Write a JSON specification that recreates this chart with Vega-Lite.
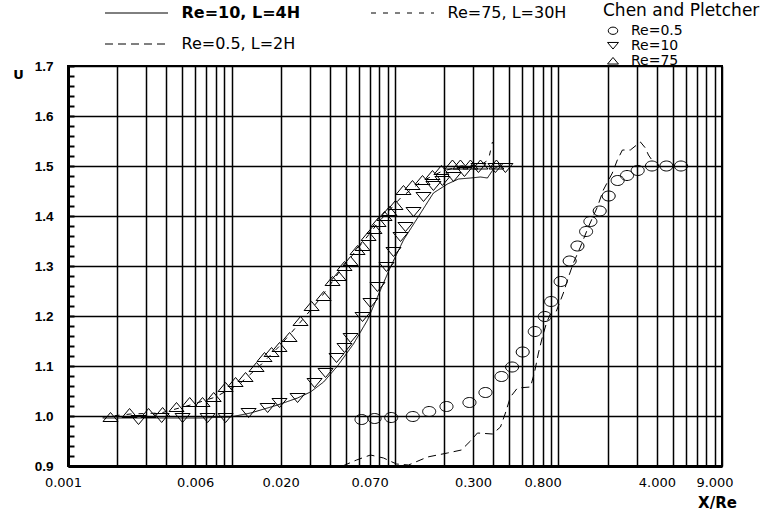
{
  "$schema": "https://vega.github.io/schema/vega-lite/v6.json",
  "width": 654,
  "height": 400,
  "autosize": {"type": "none"},
  "padding": {"left": 68, "top": 66, "right": 54, "bottom": 45},
  "background": "white",
  "config": {
    "view": {"stroke": "black", "strokeWidth": 2},
    "axis": {"domainColor": "black", "labelColor": "black", "titleColor": "black", "tickColor": "black"}
  },
  "resolve": {"axis": {"y": "independent"}},
  "datasets": {
    "lines": [
      {"s": "Re=10, L=4H", "x": 0.00163, "u": 0.996},
      {"s": "Re=10, L=4H", "x": 0.00321, "u": 0.996},
      {"s": "Re=10, L=4H", "x": 0.00647, "u": 0.996},
      {"s": "Re=10, L=4H", "x": 0.00987, "u": 0.998},
      {"s": "Re=10, L=4H", "x": 0.01309, "u": 1.006},
      {"s": "Re=10, L=4H", "x": 0.01914, "u": 1.022},
      {"s": "Re=10, L=4H", "x": 0.02535, "u": 1.036},
      {"s": "Re=10, L=4H", "x": 0.0304, "u": 1.048},
      {"s": "Re=10, L=4H", "x": 0.0366, "u": 1.068},
      {"s": "Re=10, L=4H", "x": 0.0445, "u": 1.1},
      {"s": "Re=10, L=4H", "x": 0.0557, "u": 1.144},
      {"s": "Re=10, L=4H", "x": 0.0679, "u": 1.192},
      {"s": "Re=10, L=4H", "x": 0.0781, "u": 1.238},
      {"s": "Re=10, L=4H", "x": 0.0938, "u": 1.298},
      {"s": "Re=10, L=4H", "x": 0.1127, "u": 1.352},
      {"s": "Re=10, L=4H", "x": 0.1373, "u": 1.396},
      {"s": "Re=10, L=4H", "x": 0.1718, "u": 1.446},
      {"s": "Re=10, L=4H", "x": 0.2094, "u": 1.464},
      {"s": "Re=10, L=4H", "x": 0.2445, "u": 1.474},
      {"s": "Re=10, L=4H", "x": 0.2893, "u": 1.476},
      {"s": "Re=10, L=4H", "x": 0.3332, "u": 1.478},
      {"s": "Re=10, L=4H", "x": 0.3676, "u": 1.476},
      {"s": "Re=10, L=4H", "x": 0.4, "u": 1.494},
      {"s": "Re=10, L=4H", "x": 0.4415, "u": 1.502},
      {"s": "Re=75, L=30H", "x": 0.00163, "u": 0.998},
      {"s": "Re=75, L=30H", "x": 0.002415, "u": 1.004},
      {"s": "Re=75, L=30H", "x": 0.00369, "u": 1.006},
      {"s": "Re=75, L=30H", "x": 0.00562, "u": 1.022},
      {"s": "Re=75, L=30H", "x": 0.008, "u": 1.038},
      {"s": "Re=75, L=30H", "x": 0.01137, "u": 1.066},
      {"s": "Re=75, L=30H", "x": 0.01507, "u": 1.102},
      {"s": "Re=75, L=30H", "x": 0.01995, "u": 1.142},
      {"s": "Re=75, L=30H", "x": 0.02644, "u": 1.188},
      {"s": "Re=75, L=30H", "x": 0.0351, "u": 1.236},
      {"s": "Re=75, L=30H", "x": 0.0465, "u": 1.292},
      {"s": "Re=75, L=30H", "x": 0.0615, "u": 1.342},
      {"s": "Re=75, L=30H", "x": 0.0815, "u": 1.392},
      {"s": "Re=75, L=30H", "x": 0.1081, "u": 1.436},
      {"s": "Re=75, L=30H", "x": 0.1432, "u": 1.468},
      {"s": "Re=75, L=30H", "x": 0.1897, "u": 1.488},
      {"s": "Re=75, L=30H", "x": 0.2513, "u": 1.5},
      {"s": "Re=75, L=30H", "x": 0.3332, "u": 1.502},
      {"s": "Re=75, L=30H", "x": 0.3728, "u": 1.512},
      {"s": "Re=75, L=30H", "x": 0.3945, "u": 1.548},
      {"s": "Re=0.5, L=2H", "x": 0.0478, "u": 0.9},
      {"s": "Re=0.5, L=2H", "x": 0.0582, "u": 0.912},
      {"s": "Re=0.5, L=2H", "x": 0.0708, "u": 0.922},
      {"s": "Re=0.5, L=2H", "x": 0.0851, "u": 0.916},
      {"s": "Re=0.5, L=2H", "x": 0.1021, "u": 0.904},
      {"s": "Re=0.5, L=2H", "x": 0.121, "u": 0.902},
      {"s": "Re=0.5, L=2H", "x": 0.1581, "u": 0.918},
      {"s": "Re=0.5, L=2H", "x": 0.2094, "u": 0.926},
      {"s": "Re=0.5, L=2H", "x": 0.2548, "u": 0.932},
      {"s": "Re=0.5, L=2H", "x": 0.2893, "u": 0.95},
      {"s": "Re=0.5, L=2H", "x": 0.3193, "u": 0.966},
      {"s": "Re=0.5, L=2H", "x": 0.3945, "u": 0.964},
      {"s": "Re=0.5, L=2H", "x": 0.4416, "u": 0.978},
      {"s": "Re=0.5, L=2H", "x": 0.4736, "u": 1.006},
      {"s": "Re=0.5, L=2H", "x": 0.508, "u": 1.038},
      {"s": "Re=0.5, L=2H", "x": 0.561, "u": 1.056},
      {"s": "Re=0.5, L=2H", "x": 0.673, "u": 1.058},
      {"s": "Re=0.5, L=2H", "x": 0.712, "u": 1.086},
      {"s": "Re=0.5, L=2H", "x": 0.754, "u": 1.126},
      {"s": "Re=0.5, L=2H", "x": 0.797, "u": 1.158},
      {"s": "Re=0.5, L=2H", "x": 0.844, "u": 1.186},
      {"s": "Re=0.5, L=2H", "x": 0.892, "u": 1.204},
      {"s": "Re=0.5, L=2H", "x": 0.971, "u": 1.21},
      {"s": "Re=0.5, L=2H", "x": 1.071, "u": 1.246},
      {"s": "Re=0.5, L=2H", "x": 1.151, "u": 1.278},
      {"s": "Re=0.5, L=2H", "x": 1.233, "u": 1.306},
      {"s": "Re=0.5, L=2H", "x": 1.361, "u": 1.338},
      {"s": "Re=0.5, L=2H", "x": 1.523, "u": 1.378},
      {"s": "Re=0.5, L=2H", "x": 1.729, "u": 1.418},
      {"s": "Re=0.5, L=2H", "x": 1.88, "u": 1.452},
      {"s": "Re=0.5, L=2H", "x": 2.134, "u": 1.486},
      {"s": "Re=0.5, L=2H", "x": 2.29, "u": 1.512},
      {"s": "Re=0.5, L=2H", "x": 2.46, "u": 1.532},
      {"s": "Re=0.5, L=2H", "x": 2.75, "u": 1.532},
      {"s": "Re=0.5, L=2H", "x": 3.17, "u": 1.548},
      {"s": "Re=0.5, L=2H", "x": 3.4, "u": 1.536},
      {"s": "Re=0.5, L=2H", "x": 3.55, "u": 1.522},
      {"s": "Re=0.5, L=2H", "x": 3.8, "u": 1.508}
    ],
    "points": [
      {"p": "Re=0.5", "x": 0.0624, "u": 0.993},
      {"p": "Re=0.5", "x": 0.075, "u": 0.995},
      {"p": "Re=0.5", "x": 0.0948, "u": 0.997},
      {"p": "Re=0.5", "x": 0.1285, "u": 0.999},
      {"p": "Re=0.5", "x": 0.1618, "u": 1.009},
      {"p": "Re=0.5", "x": 0.2065, "u": 1.019},
      {"p": "Re=0.5", "x": 0.2853, "u": 1.027},
      {"p": "Re=0.5", "x": 0.3575, "u": 1.047},
      {"p": "Re=0.5", "x": 0.448, "u": 1.079},
      {"p": "Re=0.5", "x": 0.52, "u": 1.098},
      {"p": "Re=0.5", "x": 0.604, "u": 1.128},
      {"p": "Re=0.5", "x": 0.716, "u": 1.169},
      {"p": "Re=0.5", "x": 0.824, "u": 1.199},
      {"p": "Re=0.5", "x": 0.901, "u": 1.229},
      {"p": "Re=0.5", "x": 1.031, "u": 1.269},
      {"p": "Re=0.5", "x": 1.17, "u": 1.31},
      {"p": "Re=0.5", "x": 1.306, "u": 1.34},
      {"p": "Re=0.5", "x": 1.475, "u": 1.369},
      {"p": "Re=0.5", "x": 1.567, "u": 1.389},
      {"p": "Re=0.5", "x": 1.786, "u": 1.41},
      {"p": "Re=0.5", "x": 2.027, "u": 1.44},
      {"p": "Re=0.5", "x": 2.3, "u": 1.471},
      {"p": "Re=0.5", "x": 2.625, "u": 1.481},
      {"p": "Re=0.5", "x": 3.05, "u": 1.491},
      {"p": "Re=0.5", "x": 3.73, "u": 1.5},
      {"p": "Re=0.5", "x": 4.57, "u": 1.5},
      {"p": "Re=0.5", "x": 5.61, "u": 1.5},
      {"p": "Re=10", "x": 0.0027, "u": 0.992},
      {"p": "Re=10", "x": 0.00374, "u": 0.996},
      {"p": "Re=10", "x": 0.00502, "u": 0.996},
      {"p": "Re=10", "x": 0.00714, "u": 0.996},
      {"p": "Re=10", "x": 0.0092, "u": 0.996},
      {"p": "Re=10", "x": 0.01272, "u": 1.006},
      {"p": "Re=10", "x": 0.01663, "u": 1.016},
      {"p": "Re=10", "x": 0.01966, "u": 1.026},
      {"p": "Re=10", "x": 0.02535, "u": 1.036},
      {"p": "Re=10", "x": 0.0322, "u": 1.066},
      {"p": "Re=10", "x": 0.0376, "u": 1.086},
      {"p": "Re=10", "x": 0.0439, "u": 1.116},
      {"p": "Re=10", "x": 0.0491, "u": 1.136},
      {"p": "Re=10", "x": 0.0535, "u": 1.156},
      {"p": "Re=10", "x": 0.0633, "u": 1.198},
      {"p": "Re=10", "x": 0.0708, "u": 1.226},
      {"p": "Re=10", "x": 0.0781, "u": 1.258},
      {"p": "Re=10", "x": 0.0887, "u": 1.298},
      {"p": "Re=10", "x": 0.0979, "u": 1.328},
      {"p": "Re=10", "x": 0.1081, "u": 1.358},
      {"p": "Re=10", "x": 0.1159, "u": 1.378},
      {"p": "Re=10", "x": 0.1298, "u": 1.408},
      {"p": "Re=10", "x": 0.1494, "u": 1.438},
      {"p": "Re=10", "x": 0.1718, "u": 1.46},
      {"p": "Re=10", "x": 0.195, "u": 1.47},
      {"p": "Re=10", "x": 0.228, "u": 1.478},
      {"p": "Re=10", "x": 0.266, "u": 1.488},
      {"p": "Re=10", "x": 0.3239, "u": 1.496},
      {"p": "Re=10", "x": 0.4114, "u": 1.496},
      {"p": "Re=10", "x": 0.4736, "u": 1.496},
      {"p": "Re=75", "x": 0.00182, "u": 0.998},
      {"p": "Re=75", "x": 0.00238, "u": 1.006},
      {"p": "Re=75", "x": 0.00311, "u": 1.006},
      {"p": "Re=75", "x": 0.00379, "u": 1.008},
      {"p": "Re=75", "x": 0.00461, "u": 1.018},
      {"p": "Re=75", "x": 0.00555, "u": 1.028},
      {"p": "Re=75", "x": 0.00665, "u": 1.028},
      {"p": "Re=75", "x": 0.00778, "u": 1.038},
      {"p": "Re=75", "x": 0.0092, "u": 1.058},
      {"p": "Re=75", "x": 0.01059, "u": 1.068},
      {"p": "Re=75", "x": 0.01219, "u": 1.078},
      {"p": "Re=75", "x": 0.01423, "u": 1.098},
      {"p": "Re=75", "x": 0.01592, "u": 1.118},
      {"p": "Re=75", "x": 0.01758, "u": 1.128},
      {"p": "Re=75", "x": 0.01966, "u": 1.138},
      {"p": "Re=75", "x": 0.02265, "u": 1.158},
      {"p": "Re=75", "x": 0.02644, "u": 1.19},
      {"p": "Re=75", "x": 0.0309, "u": 1.22},
      {"p": "Re=75", "x": 0.0366, "u": 1.24},
      {"p": "Re=75", "x": 0.0415, "u": 1.27},
      {"p": "Re=75", "x": 0.0452, "u": 1.28},
      {"p": "Re=75", "x": 0.0491, "u": 1.3},
      {"p": "Re=75", "x": 0.0535, "u": 1.31},
      {"p": "Re=75", "x": 0.059, "u": 1.332},
      {"p": "Re=75", "x": 0.0633, "u": 1.34},
      {"p": "Re=75", "x": 0.0689, "u": 1.36},
      {"p": "Re=75", "x": 0.0749, "u": 1.374},
      {"p": "Re=75", "x": 0.0793, "u": 1.388},
      {"p": "Re=75", "x": 0.0863, "u": 1.4},
      {"p": "Re=75", "x": 0.0925, "u": 1.41},
      {"p": "Re=75", "x": 0.1007, "u": 1.422},
      {"p": "Re=75", "x": 0.1127, "u": 1.452},
      {"p": "Re=75", "x": 0.1279, "u": 1.462},
      {"p": "Re=75", "x": 0.1473, "u": 1.472},
      {"p": "Re=75", "x": 0.1695, "u": 1.482},
      {"p": "Re=75", "x": 0.1923, "u": 1.492},
      {"p": "Re=75", "x": 0.2246, "u": 1.503},
      {"p": "Re=75", "x": 0.2513, "u": 1.503},
      {"p": "Re=75", "x": 0.2893, "u": 1.503},
      {"p": "Re=75", "x": 0.3332, "u": 1.503},
      {"p": "Re=75", "x": 0.4173, "u": 1.503}
    ]
  },
  "layer": [
    {
      "data": {"name": "lines"},
      "mark": {"type": "line", "color": "black", "strokeWidth": 1, "clip": true},
      "encoding": {
        "x": {
          "field": "x", "type": "quantitative",
          "scale": {"type": "log", "domain": [0.001, 10], "nice": false},
          "axis": {
            "values": [0.001,0.002,0.003,0.004,0.005,0.006,0.007,0.008,0.009,0.01,0.02,0.03,0.04,0.05,0.06,0.07,0.08,0.09,0.1,0.2,0.3,0.4,0.5,0.6,0.7,0.8,0.9,1,2,3,4,5,6,7,8,9,10],
            "labelExpr": "(datum.value == 0.001 || datum.value == 0.006 || datum.value == 0.02 || datum.value == 0.07 || datum.value == 0.3 || datum.value == 0.8 || datum.value == 4 || datum.value == 9) ? format(datum.value, '.3f') : ''",
            "labelOverlap": false,
            "labelFlush": false,
            "labelOffset": {"condition": {"test": "datum.value == 0.001", "value": -5}, "value": 0},
            "labelFont": "DejaVu Sans",
            "labelFontSize": 13,
            "labelPadding": 10,
            "ticks": false,
            "domainWidth": 3,
            "grid": true,
            "gridColor": "black",
            "gridWidth": 1.5,
            "gridOpacity": 1,
            "title": "X/Re",
            "titleFont": "DejaVu Sans",
            "titleFontSize": 15,
            "titleFontWeight": "bold",
            "titleX": 649,
            "titleY": 41,
            "titleAlign": "center",
            "titleBaseline": "alphabetic"
          }
        },
        "y": {
          "field": "u", "type": "quantitative",
          "scale": {"domain": [0.9, 1.7], "nice": false, "zero": false},
          "axis": {
            "orient": "left",
            "values": [0.9, 1.0, 1.1, 1.2, 1.3, 1.4, 1.5, 1.6, 1.7],
            "format": ".1f",
            "labelOverlap": false,
            "labelFont": "Liberation Sans",
            "labelFontSize": 13.5,
            "labelFontWeight": "bold",
            "labelPadding": 15,
            "ticks": false,
            "domainWidth": 3,
            "grid": true,
            "gridColor": "black",
            "gridWidth": 1.5,
            "gridOpacity": 1,
            "title": "U",
            "titleAngle": 0,
            "titleX": -50,
            "titleY": 8,
            "titleAlign": "center",
            "titleBaseline": "middle",
            "titleFont": "DejaVu Sans",
            "titleFontSize": 13,
            "titleFontWeight": "bold"
          }
        },
        "strokeDash": {
          "field": "s", "type": "nominal",
          "scale": {"domain": ["Re=10, L=4H", "Re=0.5, L=2H", "Re=75, L=30H"], "range": [[1, 0], [8, 5], [5, 7]]},
          "legend": {
            "title": null,
            "orient": "none",
            "legendX": 36.5,
            "legendY": -61,
            "columns": 2,
            "columnPadding": 70,
            "rowPadding": 15,
            "symbolType": "stroke",
            "symbolSize": 3969,
            "symbolStrokeWidth": 1,
            "symbolStrokeColor": "black",
            "clipHeight": 16,
            "labelFont": "DejaVu Sans",
            "labelFontSize": 16,
            "labelColor": "black",
            "labelOffset": 13,
            "labelLimit": 300,
            "encode": {"labels": {"update": {"fontWeight": {"signal": "datum.value === 'Re=10, L=4H' ? 'bold' : 'normal'"}}}}
          }
        }
      }
    },
    {
      "data": {"name": "points"},
      "mark": {"type": "point", "filled": false, "color": "black", "strokeWidth": 1, "size": 225, "opacity": 1},
      "encoding": {
        "x": {"field": "x", "type": "quantitative"},
        "y": {
          "field": "u", "type": "quantitative",
          "axis": {
            "orient": "left",
            "values": [0.9,0.92,0.94,0.96,0.98,1,1.02,1.04,1.06,1.08,1.1,1.12,1.14,1.16,1.18,1.2,1.22,1.24,1.26,1.28,1.3,1.32,1.34,1.36,1.38,1.4,1.42,1.44,1.46,1.48,1.5,1.52,1.54,1.56,1.58,1.6,1.62,1.64,1.66,1.68,1.7],
            "labels": false,
            "domain": false,
            "grid": false,
            "ticks": true,
            "tickSize": -6,
            "tickWidth": 2,
            "tickColor": "black",
            "title": null
          }
        },
        "shape": {
          "field": "p", "type": "nominal",
          "scale": {
            "domain": ["Re=0.5", "Re=10", "Re=75"],
            "range": ["M-0.87,0A0.87,0.667,0,1,1,0.87,0A0.87,0.667,0,1,1,-0.87,0Z", "M-1,-0.6L1,-0.6L0,0.6Z", "M-1,0.6L1,0.6L0,-0.6Z"]
          },
          "legend": {
            "title": "Chen and Pletcher",
            "orient": "none",
            "legendX": 535,
            "legendY": -63,
            "titleFont": "DejaVu Sans",
            "titleFontSize": 17,
            "titleFontWeight": "normal",
            "titleColor": "black",
            "titlePadding": 4,
            "titleLimit": 300,
            "symbolSize": 120,
            "symbolFillColor": "transparent",
            "symbolStrokeColor": "black",
            "symbolStrokeWidth": 1,
            "symbolOffset": 3,
            "labelOffset": 11,
            "labelFont": "DejaVu Sans",
            "labelFontSize": 14,
            "labelColor": "black",
            "clipHeight": 13.5,
            "rowPadding": 0
          }
        }
      }
    }
  ]
}
